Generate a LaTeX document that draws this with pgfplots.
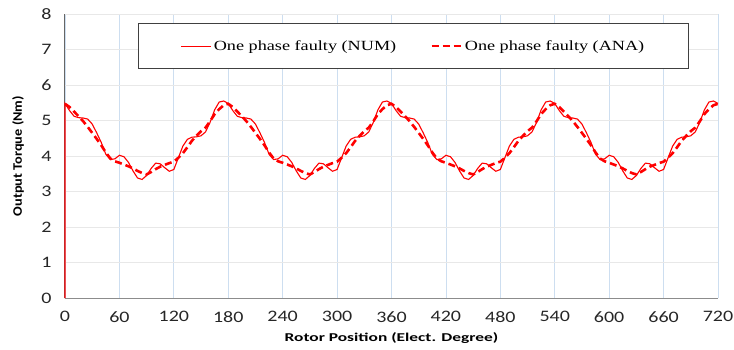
\documentclass[border=0pt]{standalone}
\usepackage{fontspec}
\setmainfont{Carlito}[FakeStretch=1.25]
\newfontfamily\xlabfont{Carlito}[FakeStretch=1.45]
\newfontfamily\ylabfont{Carlito}[FakeStretch=1.1]
\newfontfamily\legfont{Liberation Serif}[FakeStretch=1.3]
\usepackage{pgfplots}
\pgfplotsset{compat=1.18}
\definecolor{vgrid}{RGB}{205,222,240}
\definecolor{hgrid}{RGB}{232,232,232}
\begin{document}
\begin{tikzpicture}
\useasboundingbox (0,0) rectangle (734pt,349pt);
\begin{axis}[
  clip=false,
  at={(65pt,51pt)}, anchor=south west,
  width=653pt, height=284pt, scale only axis,
  xmin=0, xmax=720, ymin=0, ymax=8,
  xtick={0,60,...,720}, ytick={0,1,...,8},
  axis x line*=bottom, axis y line*=left,
  axis line style={-},
  x axis line style={draw=black!45, line width=1pt},
  y axis line style={draw=none},
  xmajorgrids, ymajorgrids,
  x grid style={vgrid, line width=0.8pt},
  y grid style={hgrid, line width=0.8pt},
  major tick length=0pt,
  /pgf/number format/assume math mode=true,
  tick label style={font=\fontsize{16}{16}\selectfont, text=black!85},
  yticklabel style={xshift=-10pt},
  xticklabel style={yshift=-10pt},
  xlabel={\textbf{Rotor Position (Elect. Degree)}},
  xlabel style={at={(axis description cs:0.5,-0.141)}, anchor=center, font=\xlabfont\fontsize{12}{12}\selectfont},
  ylabel={\textbf{Output Torque (Nm)}},
  ylabel style={at={(axis description cs:-0.072,0.5)}, anchor=center, font=\ylabfont\fontsize{13}{13}\selectfont},
  legend columns=2,
  legend image code/.code={\draw[#1] (0pt,0pt) -- (30pt,0pt);},
  legend style={at={(0.5337,0.887)}, anchor=center, draw=black!75, line width=1pt,
    inner xsep=42pt, inner ysep=15pt, font=\legfont\fontsize{14}{14}\selectfont,
    /tikz/every even column/.append style={column sep=32pt},
    cells={anchor=west}},
]
\addplot[black!60, line width=1pt, forget plot] coordinates {(0,0)(0,8)};
\addplot[red, line width=1.1pt] coordinates {
(0,0)(0,5.48)(5,5.28)(10,5.12)(15,5.08)(20,5.07)(25,5.04)(30,4.90)(35,4.65)(40,4.38)(45,4.05)(50,3.90)(55,3.92)(60,4.02)(65,3.98)(70,3.82)(75,3.58)(80,3.38)(85,3.34)(90,3.45)(95,3.65)(100,3.80)(105,3.78)(110,3.67)(115,3.57)(120,3.62)(125,3.95)(130,4.28)(135,4.47)(140,4.53)(145,4.54)(150,4.57)(155,4.68)(160,4.95)(165,5.30)(170,5.52)(175,5.55)
(180,5.48)(185,5.28)(190,5.12)(195,5.08)(200,5.07)(205,5.04)(210,4.90)(215,4.65)(220,4.38)(225,4.05)(230,3.90)(235,3.92)(240,4.02)(245,3.98)(250,3.82)(255,3.58)(260,3.38)(265,3.34)(270,3.45)(275,3.65)(280,3.80)(285,3.78)(290,3.67)(295,3.57)(300,3.62)(305,3.95)(310,4.28)(315,4.47)(320,4.53)(325,4.54)(330,4.57)(335,4.68)(340,4.95)(345,5.30)(350,5.52)(355,5.55)
(360,5.48)(365,5.28)(370,5.12)(375,5.08)(380,5.07)(385,5.04)(390,4.90)(395,4.65)(400,4.38)(405,4.05)(410,3.90)(415,3.92)(420,4.02)(425,3.98)(430,3.82)(435,3.58)(440,3.38)(445,3.34)(450,3.45)(455,3.65)(460,3.80)(465,3.78)(470,3.67)(475,3.57)(480,3.62)(485,3.95)(490,4.28)(495,4.47)(500,4.53)(505,4.54)(510,4.57)(515,4.68)(520,4.95)(525,5.30)(530,5.52)(535,5.55)
(540,5.48)(545,5.28)(550,5.12)(555,5.08)(560,5.07)(565,5.04)(570,4.90)(575,4.65)(580,4.38)(585,4.05)(590,3.90)(595,3.92)(600,4.02)(605,3.98)(610,3.82)(615,3.58)(620,3.38)(625,3.34)(630,3.45)(635,3.65)(640,3.80)(645,3.78)(650,3.67)(655,3.57)(660,3.62)(665,3.95)(670,4.28)(675,4.47)(680,4.53)(685,4.54)(690,4.57)(695,4.68)(700,4.95)(705,5.30)(710,5.52)(715,5.55)(720,5.48)
};
\addlegendentry{One phase faulty (NUM)}
\addplot[red, line width=2.6pt, dash pattern=on 7pt off 4pt] coordinates {
(0,5.47)(5,5.38)(10,5.25)(15,5.12)(20,4.98)(25,4.82)(30,4.65)(35,4.48)(40,4.30)(45,4.10)(50,3.93)(55,3.85)(60,3.81)(65,3.76)(70,3.71)(75,3.65)(80,3.58)(85,3.52)(90,3.48)(95,3.55)(100,3.63)(105,3.70)(110,3.75)(115,3.80)(120,3.84)(125,3.95)(130,4.08)(135,4.25)(140,4.43)(145,4.57)(150,4.70)(155,4.80)(160,4.98)(165,5.18)(170,5.32)(175,5.43)
(180,5.47)(185,5.38)(190,5.25)(195,5.12)(200,4.98)(205,4.82)(210,4.65)(215,4.48)(220,4.30)(225,4.10)(230,3.93)(235,3.85)(240,3.81)(245,3.76)(250,3.71)(255,3.65)(260,3.58)(265,3.52)(270,3.48)(275,3.55)(280,3.63)(285,3.70)(290,3.75)(295,3.80)(300,3.84)(305,3.95)(310,4.08)(315,4.25)(320,4.43)(325,4.57)(330,4.70)(335,4.80)(340,4.98)(345,5.18)(350,5.32)(355,5.43)
(360,5.47)(365,5.38)(370,5.25)(375,5.12)(380,4.98)(385,4.82)(390,4.65)(395,4.48)(400,4.30)(405,4.10)(410,3.93)(415,3.85)(420,3.81)(425,3.76)(430,3.71)(435,3.65)(440,3.58)(445,3.52)(450,3.48)(455,3.55)(460,3.63)(465,3.70)(470,3.75)(475,3.80)(480,3.84)(485,3.95)(490,4.08)(495,4.25)(500,4.43)(505,4.57)(510,4.70)(515,4.80)(520,4.98)(525,5.18)(530,5.32)(535,5.43)
(540,5.47)(545,5.38)(550,5.25)(555,5.12)(560,4.98)(565,4.82)(570,4.65)(575,4.48)(580,4.30)(585,4.10)(590,3.93)(595,3.85)(600,3.81)(605,3.76)(610,3.71)(615,3.65)(620,3.58)(625,3.52)(630,3.48)(635,3.55)(640,3.63)(645,3.70)(650,3.75)(655,3.80)(660,3.84)(665,3.95)(670,4.08)(675,4.25)(680,4.43)(685,4.57)(690,4.70)(695,4.80)(700,4.98)(705,5.18)(710,5.32)(715,5.43)(720,5.47)
};
\addlegendentry{One phase faulty (ANA)}
\end{axis}
\end{tikzpicture}
\end{document}
